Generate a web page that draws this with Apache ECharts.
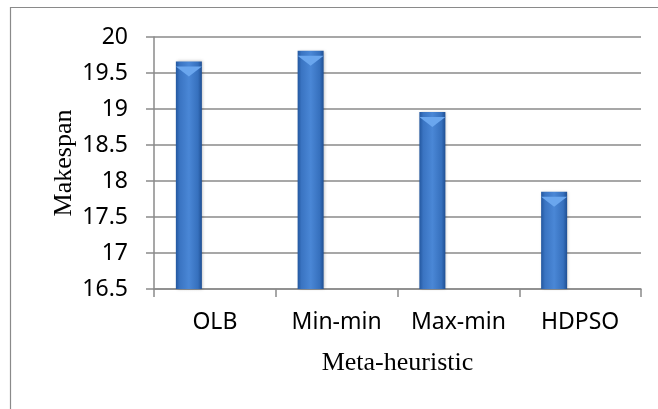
<!DOCTYPE html>
<html><head><meta charset="utf-8">
<script src="https://cdn.jsdelivr.net/npm/echarts@6/dist/echarts.min.js"></script>
<style>html,body{margin:0;padding:0;background:#fff}#c{width:658px;height:409px}</style>
</head><body><div id="c"></div>
<script>
const categories = ['OLB', 'Min-min', 'Max-min', 'HDPSO'];
const makespan = [19.66, 19.81, 18.96, 17.85];
const yTicks = [16.5, 17, 17.5, 18, 18.5, 19, 19.5, 20];
const xName = 'Meta-heuristic';
const yName = 'Makespan';

const chart = echarts.init(document.getElementById('c'), null, {renderer: 'canvas'});
const gray = '#8a8a8a';
const sans = '"Noto Sans", sans-serif';
const serif = '"Liberation Serif", "DejaVu Serif", serif';
const barGrad = new echarts.graphic.LinearGradient(0, 0, 1, 0, [
  {offset: 0, color: '#23579f'},
  {offset: 0.15, color: '#3a74c2'},
  {offset: 0.5, color: '#4a87d6'},
  {offset: 0.85, color: '#3670bd'},
  {offset: 1, color: '#1f4f93'}
]);
chart.setOption({
  animation: false,
  backgroundColor: '#fff',
  graphic: [{type: 'rect', shape: {x: 10.5, y: 7.5, width: 700, height: 500},
    style: {fill: 'none', stroke: gray, lineWidth: 1.2}, z: -1}],
  grid: {left: 154, right: 17, top: 37, bottom: 120},
  xAxis: {
    type: 'category', data: categories,
    name: xName, nameLocation: 'middle', nameGap: 61, nameMoveOverlap: false,
    nameTextStyle: {fontFamily: serif, fontSize: 26, color: '#000'},
    axisLine: {lineStyle: {color: gray, width: 1.5}},
    axisTick: {show: true, length: 8, lineStyle: {color: gray, width: 1.5}},
    axisLabel: {fontFamily: sans, fontSize: 23, color: '#000', margin: 22, interval: 0}
  },
  yAxis: {
    type: 'value', min: yTicks[0], max: yTicks[yTicks.length - 1], interval: 0.5,
    name: yName, nameLocation: 'middle', nameGap: 77, nameMoveOverlap: false,
    nameTextStyle: {fontFamily: serif, fontSize: 26, color: '#000'},
    axisLine: {show: true, lineStyle: {color: gray, width: 1.5}},
    axisTick: {show: true, length: 8, lineStyle: {color: gray, width: 1.5}},
    axisLabel: {fontFamily: sans, fontSize: 23, color: '#000', margin: 26,
      formatter: v => String(v)},
    splitLine: {lineStyle: {color: gray, width: 1.5}}
  },
  series: [
    {type: 'bar', data: makespan, barWidth: 26, barGap: '0%',
      itemStyle: {color: barGrad, shadowColor: 'rgba(0,0,0,0.25)', shadowBlur: 3, shadowOffsetX: 1}},
    {type: 'bar', data: makespan.map(() => null), barWidth: 26},
    {type: 'bar', data: makespan.map(() => null), barWidth: 26},
    {type: 'pictorialBar', data: makespan, symbol: 'path://M0,0 L26,0 L13,10 Z',
      symbolSize: [26, 10], symbolPosition: 'end', symbolOffset: [-26, '50%'],
      itemStyle: {color: '#6aa6ee'}, z: 5}
  ]
});
</script></body></html>
